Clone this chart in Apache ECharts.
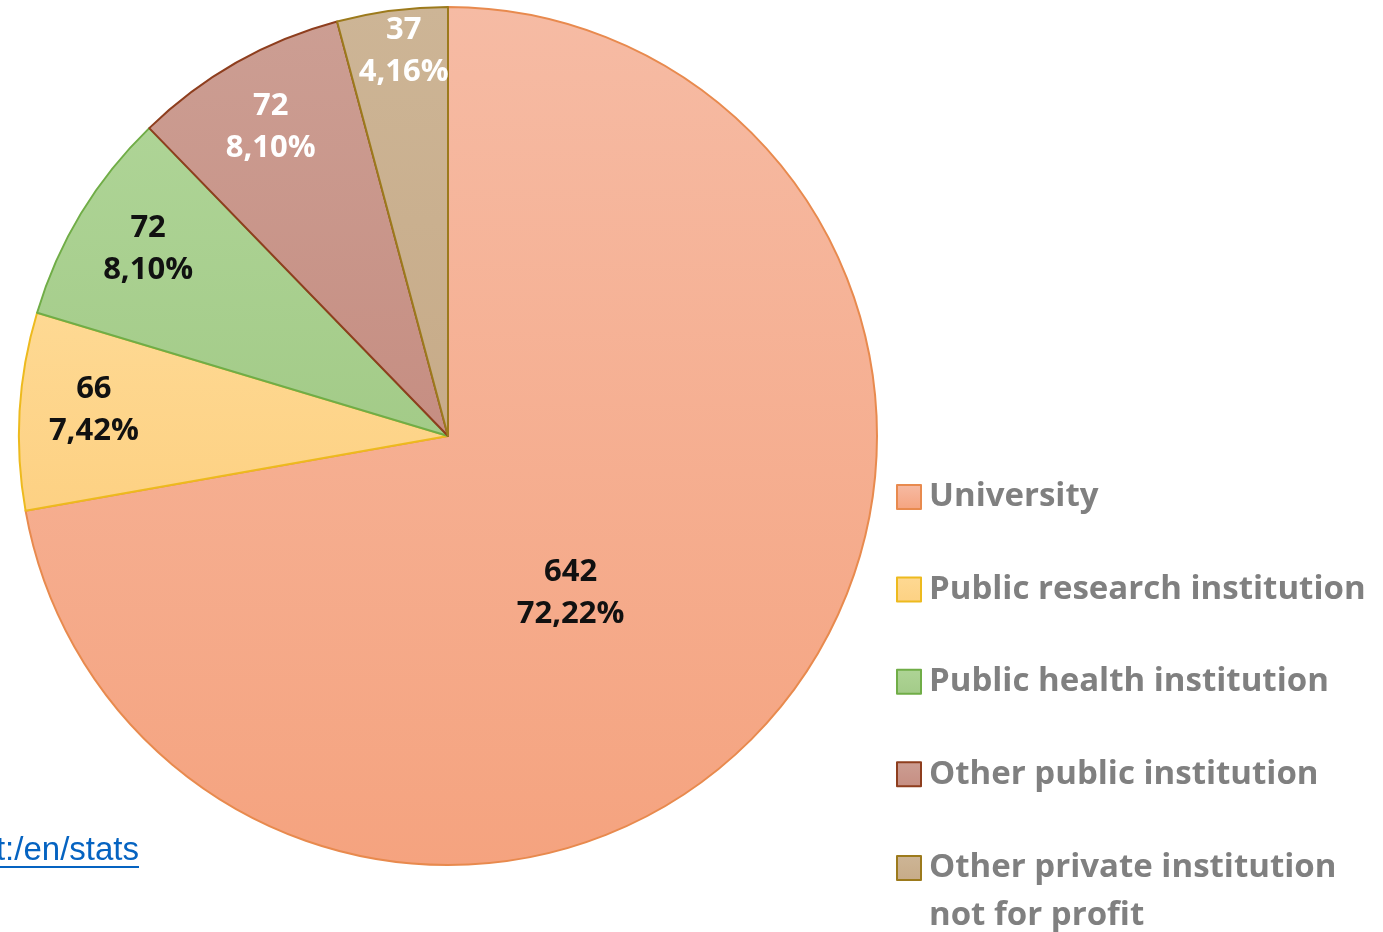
<!DOCTYPE html>
<html>
<head>
<meta charset="utf-8">
<script src="https://cdn.jsdelivr.net/npm/echarts@6/dist/echarts.min.js"></script>
<style>
html,body{margin:0;padding:0;background:#fff;}
#chart{width:1383px;height:932px;}
</style>
</head>
<body>
<div id="chart"></div>
<script>
const categories = ['University', 'Public research institution', 'Public health institution', 'Other public institution', 'Other private institution\nnot for profit'];
const values = [642, 66, 72, 72, 37];
const percentLabels = ['72,22%', '7,42%', '8,10%', '8,10%', '4,16%'];

const fillTop = ['#F6BBA4', '#FED993', '#AED496', '#CC9E93', '#CDB596'];
const fillBottom = ['#F5A37F', '#FDD183', '#A3CB88', '#C68E82', '#C7AB88'];
const borders = ['#E88A4E', '#EDBA1E', '#70AD47', '#8E3E1E', '#9C7A1C'];
const labelColors = ['#111', '#111', '#111', '#fff', '#fff'];
const labelOffsets = [[-44, 17], [-137, -13], [-114, -74], [-70, -120], [-16, -169]];

const chart = echarts.init(document.getElementById('chart'));
const data = categories.map((c, i) => ({
  name: c,
  value: values[i],
  itemStyle: {
    color: new echarts.graphic.LinearGradient(0, 0, 0, 1, [
      {offset: 0, color: fillTop[i]}, {offset: 1, color: fillBottom[i]}
    ]),
    borderColor: borders[i],
    borderWidth: 2
  },
  label: { color: labelColors[i], offset: labelOffsets[i] }
}));

const legendText = {
  fontFamily: 'Open Sans',
  fontWeight: 'bold',
  fontSize: 33,
  color: '#808080',
  lineHeight: 48,
  padding: [0, 0, 0, 3]
};

chart.setOption({
  animation: false,
  legend: [{
    orient: 'vertical',
    left: 896,
    top: 473,
    padding: 0,
    itemWidth: 24,
    itemHeight: 24,
    itemGap: 44.4,
    icon: 'rect',
    selectedMode: false,
    textStyle: legendText,
    itemStyle: { borderWidth: 2 },
    data: categories.slice(0, 4)
  }, {
    orient: 'vertical',
    left: 896,
    top: 796,
    padding: 0,
    itemWidth: 24,
    itemHeight: 24,
    icon: 'rect',
    selectedMode: false,
    textStyle: legendText,
    formatter: name => '\n' + name,
    itemStyle: { borderWidth: 2 },
    data: categories.slice(4)
  }],
  series: [{
    type: 'pie',
    center: [448, 436],
    radius: [0, 429],
    startAngle: 90,
    clockwise: true,
    avoidLabelOverlap: false,
    label: {
      show: true,
      position: 'inside',
      fontFamily: 'Open Sans',
      fontWeight: 'bold',
      fontSize: 31,
      lineHeight: 42,
      formatter: p => values[p.dataIndex] + '\n' + percentLabels[p.dataIndex]
    },
    labelLine: { show: false },
    emphasis: { disabled: true },
    data: data
  }],
  graphic: [
    {
      type: 'text',
      right: 1383 - 139,
      top: 834,
      style: {
        text: 't:/en/stats',
        fontFamily: 'Liberation Sans',
        fontSize: 33,
        fill: '#0563C1',
        textAlign: 'right'
      }
    },
    {
      type: 'rect',
      shape: { x: 0, y: 866, width: 139, height: 2 },
      style: { fill: '#0563C1' }
    }
  ]
});
</script>
</body>
</html>
